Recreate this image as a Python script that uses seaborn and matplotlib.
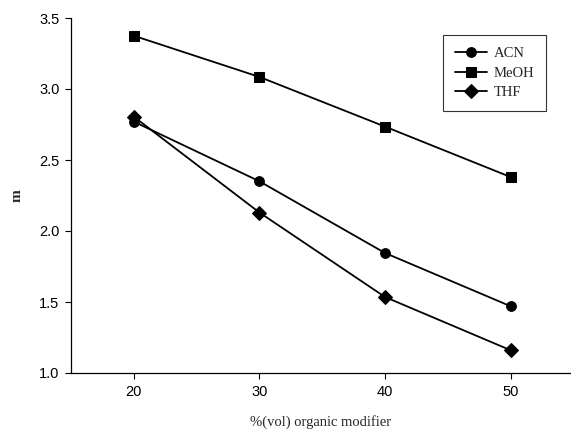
import matplotlib
matplotlib.use("Agg")
import matplotlib.pyplot as plt
import seaborn as sns
import pandas as pd

x_vals = [20, 30, 40, 50]
acn = [2.77, 2.35, 1.845, 1.47]
meoh = [3.375, 3.085, 2.735, 2.38]
thf = [2.805, 2.13, 1.535, 1.16]
series_names = ["ACN", "MeOH", "THF"]
x_ticks = [20, 30, 40, 50]
y_ticks = [1.0, 1.5, 2.0, 2.5, 3.0, 3.5]

rows = []
for name, vals in zip(series_names, [acn, meoh, thf]):
    for xv, yv in zip(x_vals, vals):
        rows.append({"x": xv, "m": yv, "solvent": name})
df = pd.DataFrame(rows)

sns.set_style("ticks")
fig = plt.figure(figsize=(5.71, 4.32), dpi=100)
ax = fig.add_axes([71/571, 1 - 373/432, (571 - 71)/571, (373 - 18)/432])

sns.lineplot(data=df, x="x", y="m", style="solvent", hue="solvent",
             palette={n: "black" for n in series_names},
             markers={"ACN": "o", "MeOH": "s", "THF": "D"},
             dashes=False, markersize=7, linewidth=1.3,
             markeredgecolor="black", ax=ax, legend=True)

ax.set_xlim(15, 54.8)
ax.set_ylim(1.0, 3.5)
ax.set_xticks(x_ticks)
ax.set_yticks(y_ticks)
ax.set_yticklabels([f"{v:.1f}" for v in y_ticks])
for lab in ax.get_xticklabels() + ax.get_yticklabels():
    lab.set_family("Liberation Sans")
    lab.set_fontsize(10.5)
ax.tick_params(direction="out", length=4.3, width=0.8, colors="black", pad=4)
for s in ["top", "right"]:
    ax.spines[s].set_visible(False)
for s in ["left", "bottom"]:
    ax.spines[s].set_linewidth(0.9)
    ax.spines[s].set_color("black")

ax.set_xlabel("%(vol) organic modifier", family="Liberation Serif", fontsize=10.5, labelpad=12)
ax.set_ylabel("m", family="Liberation Serif", fontsize=11, fontweight="bold", labelpad=11)

handles, labels = ax.get_legend_handles_labels()
leg = ax.legend(handles, labels, loc="upper left",
                bbox_to_anchor=((443 - 71)/500, 1 - (35 - 18)/355),
                frameon=True, fancybox=False, edgecolor="black",
                prop={"family": "Liberation Serif", "size": 10.5},
                handlelength=2.2, borderpad=0.8, labelspacing=0.45,
                handletextpad=0.5, borderaxespad=0)
leg.get_frame().set_linewidth(0.8)

fig.savefig("out.png", dpi=100)
